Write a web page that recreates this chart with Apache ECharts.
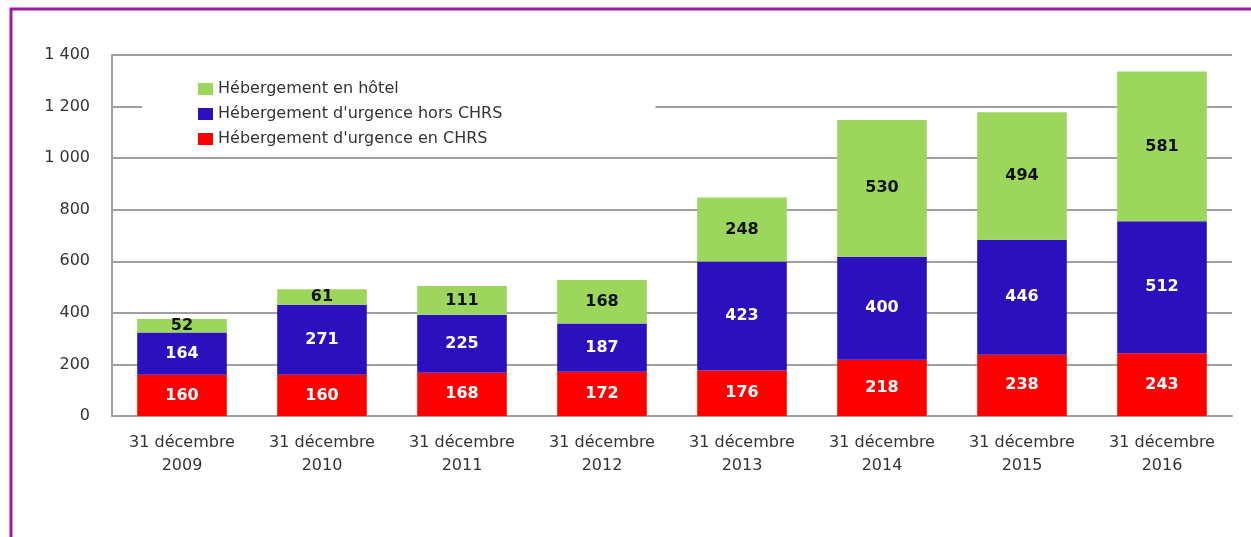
<!DOCTYPE html>
<html>
<head>
<meta charset="utf-8">
<script src="https://cdn.jsdelivr.net/npm/echarts@6/dist/echarts.min.js"></script>
<style>
  html, body { margin: 0; padding: 0; background: #fff; }
  #chart { width: 1251px; height: 537px; }
</style>
</head>
<body>
<div id="chart"></div>
<script>
// categories and stacked values (bottom -> top)
var years = ['2009', '2010', '2011', '2012', '2013', '2014', '2015', '2016'];
var enChrs = [160, 160, 168, 172, 176, 218, 238, 243];
var horsChrs = [164, 271, 225, 187, 423, 400, 446, 512];
var hotel = [52, 61, 111, 168, 248, 530, 494, 581];
var yTicks = [0, 200, 400, 600, 800, 1000, 1200, 1400];

var categories = years.map(function (y) { return '31 décembre\n' + y; });

var myChart = echarts.init(document.getElementById('chart'));

var font = 'DejaVu Sans';

function seg(name, data, color, labelColor) {
    return {
        name: name,
        type: 'bar',
        stack: 'total',
        barWidth: '64%',
        data: data,
        itemStyle: { color: color },
        label: {
            show: true,
            position: 'inside',
            color: labelColor,
            fontFamily: font,
            fontSize: 16,
            fontWeight: 'bold'
        }
    };
}

myChart.setOption({
    animation: false,
    textStyle: { fontFamily: font },
    graphic: [{
        type: 'rect',
        shape: { x: 11, y: 9, width: 1400, height: 700 },
        style: { fill: 'none', stroke: '#9a1aa0', lineWidth: 3 },
        silent: true
    }],
    grid: { left: 112, right: 19, top: 55, bottom: 121 },
    legend: {
        orient: 'vertical',
        left: 142,
        top: 73,
        data: ['Hébergement en hôtel', "Hébergement d'urgence hors CHRS", "Hébergement d'urgence en CHRS"],
        backgroundColor: '#fff',
        padding: [8, 153, 8, 56],
        itemGap: 9,
        itemWidth: 15,
        itemHeight: 12,
        icon: 'rect',
        textStyle: { color: '#333', fontSize: 16, fontFamily: font }
    },
    xAxis: {
        type: 'category',
        data: categories,
        axisLine: { lineStyle: { color: '#a0a0a0', width: 2 } },
        axisTick: { show: false },
        axisLabel: {
            color: '#333',
            fontSize: 16,
            lineHeight: 23,
            margin: 15,
            interval: 0,
            fontFamily: font
        }
    },
    yAxis: {
        type: 'value',
        min: yTicks[0],
        max: yTicks[yTicks.length - 1],
        interval: 200,
        axisLine: { show: true, lineStyle: { color: '#a0a0a0', width: 2 } },
        axisTick: { show: false },
        splitLine: { lineStyle: { color: '#a0a0a0', width: 2 } },
        axisLabel: {
            color: '#333',
            fontSize: 16,
            margin: 22,
            fontFamily: font,
            formatter: function (v) {
                return String(v).replace(/\B(?=(\d{3})+(?!\d))/g, ' ');
            }
        }
    },
    series: [
        seg("Hébergement d'urgence en CHRS", enChrs, '#ff0000', '#fff'),
        seg("Hébergement d'urgence hors CHRS", horsChrs, '#2c10be', '#fff'),
        seg('Hébergement en hôtel', hotel, '#9dd65c', '#111')
    ]
});

window.addEventListener('resize', function () {
    myChart.resize();
});
</script>
</body>
</html>
